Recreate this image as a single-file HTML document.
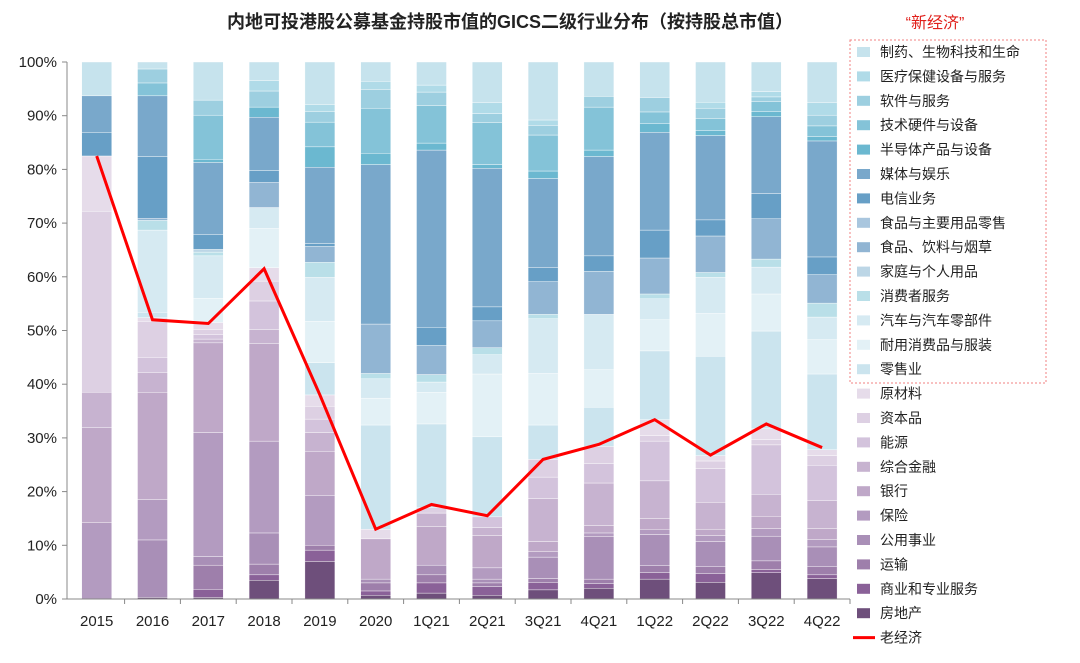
<!DOCTYPE html>
<html><head><meta charset="utf-8">
<style>
body{margin:0;background:#fff;}
svg text{font-family:"Liberation Sans","Noto Sans CJK SC",sans-serif;}
</style></head>
<body>
<svg id="chart" width="1080" height="658" viewBox="0 0 1080 658" xmlns="http://www.w3.org/2000/svg">
<text x="510" y="28" text-anchor="middle" font-size="18" font-weight="bold" fill="#222">内地可投港股公募基金持股市值的GICS二级行业分布（按持股总市值）</text>
<text x="935" y="28" text-anchor="middle" font-size="16" fill="#e0201b">“新经济”</text>
<rect x="850" y="40" width="196" height="343" fill="none" stroke="#f08080" stroke-dasharray="2,2"/>
<g id="grid"></g><g id="bars"></g><g id="axes"></g><g id="legend"></g>
</svg>
<script>
const categories=["2015","2016","2017","2018","2019","2020","1Q21","2Q21","3Q21","4Q21","1Q22","2Q22","3Q22","4Q22"];
const seriesNames=["房地产","商业和专业服务","运输","公用事业","保险","银行","综合金融","能源","资本品","原材料","零售业","耐用消费品与服装","汽车与汽车零部件","消费者服务","家庭与个人用品","食品、饮料与烟草","食品与主要用品零售","电信业务","媒体与娱乐","半导体产品与设备","技术硬件与设备","软件与服务","医疗保健设备与服务","制药、生物科技和生命"];
const seriesColors=["#6e4f7b","#8a6198","#9e7fab","#a98fb7","#b39bc0","#bfa8c8","#c7b3d0","#d3c3dc","#ddd0e3","#e6dcea","#cbe4ee","#e3f1f6","#d6eaf2","#b9dfe8","#bcd6e6","#91b5d3","#a9c6de","#679fc6","#79a8cb","#6bb8d0","#84c3d8","#9dcfe0","#b0dbe8","#c6e3ed"];
const s2015=[0,0,0,0,14.2,17.7,6.6,0,33.7,10.3,0,0,0,0,0,0,0,4.4,6.8,0,0,0,0,6.3];
const s2016=[0.3,0,0,10.7,7.5,20,3.7,2.8,6.7,0.7,1.0,0,15.3,1.8,0,0.4,0,11.5,11.3,0,2.4,2.6,0,1.3];
const s2017=[0.3,1.5,4.5,1.6,23.1,16.7,0.7,0.8,1.0,1.3,0,4.5,7.9,0.7,0.5,0,0,2.8,13.4,0.6,8.2,2.8,0,7.1];
const s2018=[3.5,1.0,2.0,5.8,17.1,18.2,2.6,5.3,3.7,2.5,0,7.3,3.9,0,0,4.7,0,2.2,9.9,1.9,0,3.0,1.9,3.5];
const s2019=[7.0,2.1,0.9,0,9.3,8.2,3.5,2.5,2.4,2.1,6.0,7.7,8.2,2.8,0,3.0,0,0.5,14.2,3.8,4.6,2.0,1.3,7.9];
const s2020=[0.7,0.8,1.5,0.7,0,7.5,0,0,0,1.8,19.4,5.0,3.6,1.0,0,9.2,0,0,29.7,2.1,8.4,3.5,1.5,3.6];
const s1Q21=[1.1,1.9,1.5,1.8,0,7.2,2.5,0,1.0,0,15.6,5.9,1.9,1.4,0,5.4,0,3.4,33.0,1.3,7.0,2.5,1.3,4.3];
const s2Q21=[0.7,1.6,0.7,0.7,2.1,6.0,1.5,2.0,0,0,14.9,11.7,3.6,1.3,0,5.0,0,2.6,25.8,0.7,7.8,1.7,2.0,7.6];
const s3Q21=[1.7,1.4,0.7,4.0,1.0,1.9,8.0,4.0,3.3,0,6.4,9.6,10.2,0.8,0,6.1,0,2.6,16.6,1.4,6.7,1.8,1.0,10.8];
const s4Q21=[2.0,0.9,0.8,7.9,0.7,1.4,7.9,3.6,3.2,0,7.3,7.0,10.3,0,0,8.0,0,2.9,18.5,1.2,8.0,2.0,0,6.4];
const s1Q22=[3.7,1.2,1.3,5.8,1.0,2.0,7.0,7.4,1.0,3.0,12.8,5.8,3.9,0.9,0,6.7,0,5.2,18.2,1.6,2.2,2.7,0,6.6];
const s2Q22=[3.1,1.6,1.3,4.7,1.1,1.2,5.0,6.3,1.4,1.0,18.5,8.0,6.7,0.9,0,6.8,0,3.0,15.7,0.9,2.3,1.9,1.1,7.5];
const s3Q22=[4.9,0.6,1.6,4.6,1.4,2.3,4.1,9.2,1.0,2.0,18.2,6.9,5.0,1.5,0,7.5,0,4.7,14.3,1.0,1.8,0.9,1.0,5.5];
const s4Q22=[3.8,0.7,1.5,3.7,1.4,2.0,5.2,6.6,1.8,1.1,14.1,6.4,4.2,2.6,0,5.3,0,3.3,21.6,0.8,2.0,2.0,2.3,7.6];
const oldEconomy=[82.5,52,51.3,61.5,38,13,17.6,15.5,26,28.8,33.4,26.8,32.6,28.2];
const yTicks=[0,10,20,30,40,50,60,70,80,90,100];
const barData=[s2015,s2016,s2017,s2018,s2019,s2020,s1Q21,s2Q21,s3Q21,s4Q21,s1Q22,s2Q22,s3Q22,s4Q22];

const NS="http://www.w3.org/2000/svg";
const X0=68.8, BAND=55.8, BW=30, Y0=599, Y100=62;
const xC=i=>X0+BAND*(i+0.5);
const yS=v=>Y0-(Y0-Y100)*v/100;
function mk(tag,attrs,parent){const e=document.createElementNS(NS,tag);for(const k in attrs)e.setAttribute(k,attrs[k]);parent.appendChild(e);return e;}
const gBars=document.getElementById('bars'),gAxes=document.getElementById('axes'),gLeg=document.getElementById('legend');

barData.forEach((vals,i)=>{
  let cum=0;
  vals.forEach((v,j)=>{
    if(v<=0)return;
    const r=mk('rect',{x:xC(i)-BW/2,y:yS(cum+v),width:BW,height:yS(cum)-yS(cum+v),fill:seriesColors[j],stroke:'#ffffff','stroke-width':0.4},gBars);
    
    
    cum+=v;
  });
});

// axes
const ya=mk('line',{x1:67,y1:Y100,x2:67,y2:Y0,stroke:'#888','stroke-width':1},gAxes);


const xa=mk('line',{x1:67,y1:Y0,x2:X0+BAND*categories.length,y2:Y0,stroke:'#888','stroke-width':1},gAxes);


yTicks.forEach(t=>{
  mk('line',{x1:62,y1:yS(t),x2:67,y2:yS(t),stroke:'#888'},gAxes);
  const tx=mk('text',{x:57,y:yS(t)+5,'text-anchor':'end','font-size':15,fill:'#222'},gAxes);
  tx.textContent=t+'%';
  
  
});
categories.forEach((c,i)=>{
  mk('line',{x1:X0+BAND*(i+1),y1:Y0,x2:X0+BAND*(i+1),y2:Y0+5,stroke:'#888'},gAxes);
  const tx=mk('text',{x:xC(i),y:626,'text-anchor':'middle','font-size':15,fill:'#222'},gAxes);
  tx.textContent=c;
  
  
});

// line
const pts=oldEconomy.map((v,i)=>xC(i)+','+yS(v)).join(' ');
const pl=mk('polyline',{points:pts,fill:'none',stroke:'#ff0000','stroke-width':3,'stroke-linejoin':'miter'},gBars);



// legend
for(let k=0;k<seriesNames.length;k++){
  const j=seriesNames.length-1-k;
  const y=52+k*24.4;
  const g=mk('g',{},gLeg);
  
  
  mk('rect',{x:857,y:y-5,width:13,height:10,fill:seriesColors[j]},g);
  const t=mk('text',{x:880,y:y+5,'font-size':14,fill:'#222'},g);
  t.textContent=seriesNames[j];
}
const ly=52+24*24.4;
const lg=mk('g',{},gLeg);


mk('line',{x1:853,y1:ly,x2:875,y2:ly,stroke:'#ff0000','stroke-width':3},lg);
const lt=mk('text',{x:880,y:ly+5,'font-size':14,fill:'#222'},lg);
lt.textContent='老经济';
</script>
</body></html>
